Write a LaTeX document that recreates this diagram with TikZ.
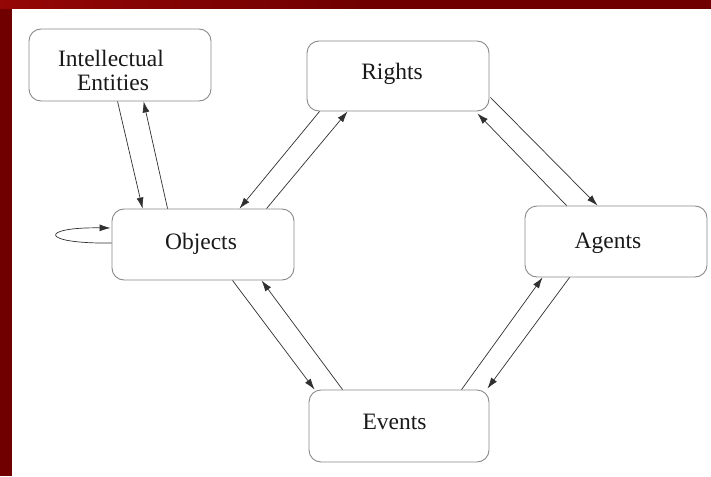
\documentclass[tikz,border=0pt]{standalone}
\usepackage{fontspec}
\setmainfont{Liberation Serif}
\usetikzlibrary{arrows.meta,calc}
\definecolor{frame}{HTML}{700000}
\definecolor{framehi}{HTML}{950606}
\definecolor{boxline}{HTML}{8A8A8A}
\definecolor{linkline}{HTML}{303030}
% move a label up or down without changing its box
\newcommand\nudgelabel[2]{\raisebox{#1}[\height][\depth]{#2}}
\begin{document}
\begin{tikzpicture}[x=1pt,y=-1pt,
  entity/.style={draw=boxline, line width=0.9pt, rounded corners=12pt,
    minimum width=182pt, minimum height=71pt, inner sep=0pt,
    font=\fontsize{23.5}{26}\selectfont, text=black!90, align=center},
  link/.style={draw=linkline, line width=0.7pt,
    -{Latex[length=11pt,width=7pt]}}]
  % slide frame
  \useasboundingbox (0,0) rectangle (711,476);
  \fill[frame] (0,0) rectangle (711,476);
  \shade[left color=framehi, right color=frame] (0,0) rectangle (360,9);
  \fill[white] (12,9) rectangle (711,476);

  % entities
  \node[entity, minimum height=72pt] (ie) at (120,65)
    {\hspace*{-18pt}\nudgelabel{-5pt}{Intellectual}\\[-2pt]\hspace*{-14pt}\nudgelabel{-5pt}{Entities}};
  \node[entity, minimum height=70pt] (rights) at (398,76) {\nudgelabel{2pt}{Rights}\hspace*{12pt}};
  \node[entity] (objects) at (203,244.5) {\nudgelabel{1pt}{Objects}\hspace*{4pt}};
  \node[entity] (agents) at (616,241.5) {\nudgelabel{-2pt}{Agents}\hspace*{16pt}};
  \node[entity, minimum width=180pt, minimum height=72pt] (events) at (399,426) {\nudgelabel{4pt}{Events}\hspace*{9pt}};

  % Intellectual Entities <-> Objects
  \draw[link] ($(ie.south west)+(89,0)$) -- ($(objects.north west)+(31,0)$);
  \draw[link] ($(objects.north west)+(56,0)$) -- ($(ie.south west)+(115,0)$);

  % Objects <-> Rights
  \draw[link] ($(objects.north west)+(155,0)$) -- ($(rights.south west)+(41,0)$);
  \draw[link] ($(rights.south west)+(13,0)$) -- ($(objects.north west)+(128,0)$);

  % Rights <-> Agents
  \draw[link] ($(rights.south east)+(1,-14)$) -- ($(agents.north west)+(73,0)$);
  \draw[link] ($(agents.north west)+(42,0)$) -- ($(rights.south east)+(-12,2)$);

  % Agents <-> Events
  \draw[link] ($(agents.south west)+(45,0)$) -- ($(events.north east)+(-2,-1)$);
  \draw[link] ($(events.north west)+(153,0)$) -- ($(agents.south west)+(18,0)$);

  % Objects <-> Events
  \draw[link] ($(objects.south west)+(121,0)$) -- ($(events.north west)+(6,0)$);
  \draw[link] ($(events.north west)+(34,0)$) -- ($(objects.south west)+(150,0)$);

  % Objects self loop
  \draw[link] ($(objects.west)+(0,-1.5)$)
    .. controls (39,244) and (39,227) .. ($(objects.west)+(-1,-16.5)$);
\end{tikzpicture}
\end{document}
